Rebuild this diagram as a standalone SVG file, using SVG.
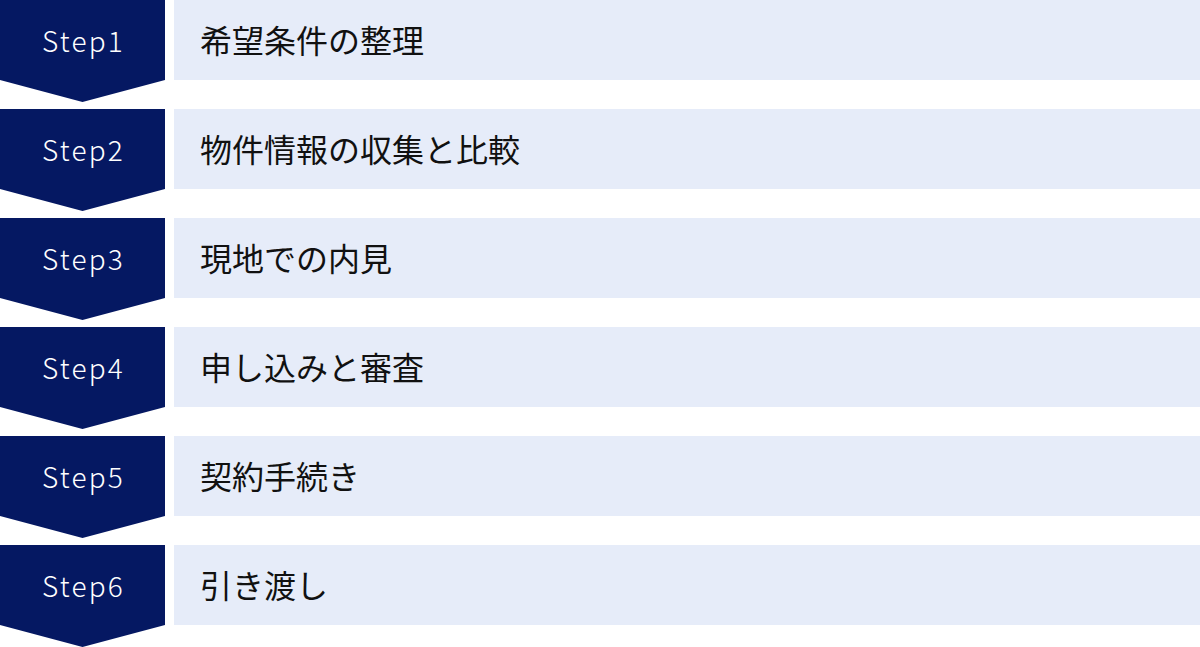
<svg xmlns="http://www.w3.org/2000/svg" width="1200" height="647" viewBox="0 0 1200 647">
<style>
.chev{fill:#051862}
.bar{fill:#e6ecf9}
.step{font-family:"Noto Sans CJK JP","Noto Sans",sans-serif;font-size:28px;font-weight:300;fill:#ffffff;text-anchor:middle;letter-spacing:2.2px}
.label{font-family:"Noto Sans CJK JP","Noto Sans",sans-serif;font-size:32px;font-weight:400;fill:#111111}
</style>
<rect width="1200" height="647" fill="#ffffff"/>
<g id="connectors"></g>
<g id="step1" transform="translate(0,0)">
<polygon class="chev" points="0,0 165,0 165,80 82.5,102 0,80"/>
<rect class="bar" x="174" y="0" width="1026" height="80"/>
<text class="step" x="83.5" y="51.5">Step1</text>
<text class="label" x="200" y="53">希望条件の整理</text>
</g>
<g id="step2" transform="translate(0,109)">
<polygon class="chev" points="0,0 165,0 165,80 82.5,102 0,80"/>
<rect class="bar" x="174" y="0" width="1026" height="80"/>
<text class="step" x="83.5" y="51.5">Step2</text>
<text class="label" x="200" y="53">物件情報の収集と比較</text>
</g>
<g id="step3" transform="translate(0,218)">
<polygon class="chev" points="0,0 165,0 165,80 82.5,102 0,80"/>
<rect class="bar" x="174" y="0" width="1026" height="80"/>
<text class="step" x="83.5" y="51.5">Step3</text>
<text class="label" x="200" y="53">現地での内見</text>
</g>
<g id="step4" transform="translate(0,327)">
<polygon class="chev" points="0,0 165,0 165,80 82.5,102 0,80"/>
<rect class="bar" x="174" y="0" width="1026" height="80"/>
<text class="step" x="83.5" y="51.5">Step4</text>
<text class="label" x="200" y="53">申し込みと審査</text>
</g>
<g id="step5" transform="translate(0,436)">
<polygon class="chev" points="0,0 165,0 165,80 82.5,102 0,80"/>
<rect class="bar" x="174" y="0" width="1026" height="80"/>
<text class="step" x="83.5" y="51.5">Step5</text>
<text class="label" x="200" y="53">契約手続き</text>
</g>
<g id="step6" transform="translate(0,545)">
<polygon class="chev" points="0,0 165,0 165,80 82.5,102 0,80"/>
<rect class="bar" x="174" y="0" width="1026" height="80"/>
<text class="step" x="83.5" y="51.5">Step6</text>
<text class="label" x="200" y="53">引き渡し</text>
</g>
</svg>
